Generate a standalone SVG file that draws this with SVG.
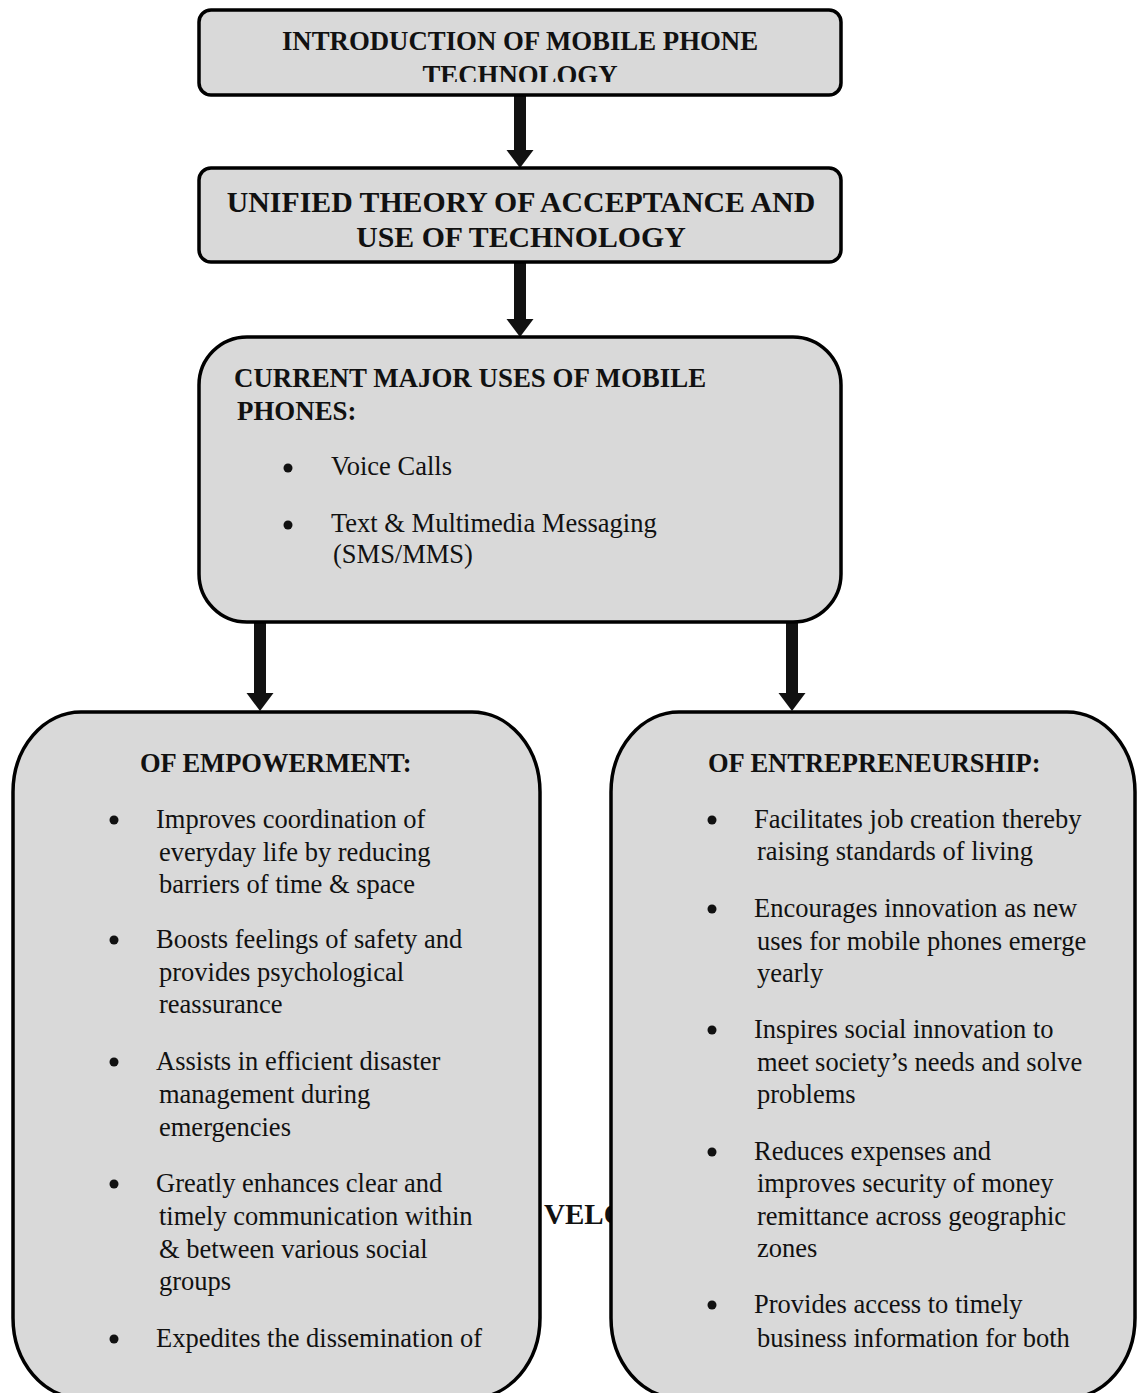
<svg xmlns="http://www.w3.org/2000/svg" width="1139" height="1393" viewBox="0 0 1139 1393">
<defs>
<style>
.box{fill:#d9d9d9;stroke:#000;stroke-width:3.5}
.t{font-family:"Liberation Serif","Times New Roman",serif;font-size:26.5px;fill:#111}
.b{font-weight:bold}
.dot{fill:#111}
.conn{stroke:#111;stroke-width:12;fill:none}
</style>
<marker id="ah" markerUnits="userSpaceOnUse" markerWidth="19" markerHeight="28" refX="0" refY="13.5" orient="auto">
<path d="M0,0 L18,13.5 L0,27 z" fill="#111"/>
</marker>
<clipPath id="c1"><rect x="199" y="10" width="642" height="72"/></clipPath>
<clipPath id="c2"><rect x="199" y="168" width="642" height="79"/></clipPath>
</defs>
<rect width="1139" height="1393" fill="#fff"/>

<text class="t b" x="544" y="1224" style="font-size:29px">VELO</text>

<g id="connectors">
<line class="conn" x1="520" y1="95" x2="520" y2="150" marker-end="url(#ah)"/>
<line class="conn" x1="520" y1="262" x2="520" y2="319" marker-end="url(#ah)"/>
<line class="conn" x1="260" y1="622" x2="260" y2="693" marker-end="url(#ah)"/>
<line class="conn" x1="792" y1="622" x2="792" y2="693" marker-end="url(#ah)"/>
</g>

<g id="intro">
<rect class="box" x="199" y="10" width="642" height="85" rx="12"/>
<g clip-path="url(#c1)">
<text class="t b" x="520" y="50" text-anchor="middle" style="font-size:26.8px">INTRODUCTION OF MOBILE PHONE</text>
<text class="t b" x="520" y="84" text-anchor="middle" style="font-size:26.8px">TECHNOLOGY</text>
</g>
</g>

<g id="utaut">
<rect class="box" x="199" y="168" width="642" height="94" rx="12"/>
<g clip-path="url(#c2)">
<text class="t b" x="521" y="212" text-anchor="middle" style="font-size:29.8px">UNIFIED THEORY OF ACCEPTANCE AND</text>
<text class="t b" x="521" y="247" text-anchor="middle" style="font-size:29.8px">USE OF TECHNOLOGY</text>
</g>
</g>

<g id="uses">
<rect class="box" x="199" y="337" width="642" height="285" rx="48"/>
<text class="t b" x="234" y="387" style="font-size:26.9px">CURRENT MAJOR USES OF MOBILE</text>
<text class="t b" x="237" y="420" style="font-size:26.9px">PHONES:</text>
<circle class="dot" cx="288" cy="468" r="4.5"/>
<text class="t" x="331" y="475">Voice Calls</text>
<circle class="dot" cx="288" cy="525" r="4.5"/>
<text class="t" x="331" y="532">Text &amp; Multimedia Messaging</text>
<text class="t" x="333" y="563">(SMS/MMS)</text>
</g>

<g id="empowerment">
<rect class="box" x="13" y="712" width="527" height="686" rx="68" ry="80"/>
<text class="t b" x="140" y="772">OF EMPOWERMENT:</text>
<circle class="dot" cx="114" cy="820" r="4.5"/>
<text class="t" x="156" y="828">Improves coordination of</text>
<text class="t" x="159" y="861">everyday life by reducing</text>
<text class="t" x="159" y="893">barriers of time &amp; space</text>
<circle class="dot" cx="114" cy="940" r="4.5"/>
<text class="t" x="156" y="948">Boosts feelings of safety and</text>
<text class="t" x="159" y="981">provides psychological</text>
<text class="t" x="159" y="1013">reassurance</text>
<circle class="dot" cx="114" cy="1062" r="4.5"/>
<text class="t" x="156" y="1070">Assists in efficient disaster</text>
<text class="t" x="159" y="1103">management during</text>
<text class="t" x="159" y="1136">emergencies</text>
<circle class="dot" cx="114" cy="1184" r="4.5"/>
<text class="t" x="156" y="1192">Greatly enhances clear and</text>
<text class="t" x="159" y="1225">timely communication within</text>
<text class="t" x="159" y="1258">&amp; between various social</text>
<text class="t" x="159" y="1290">groups</text>
<circle class="dot" cx="114" cy="1339" r="4.5"/>
<text class="t" x="156" y="1347">Expedites the dissemination of</text>
</g>

<g id="entrepreneurship">
<rect class="box" x="611" y="712" width="524" height="686" rx="68" ry="80"/>
<text class="t b" x="708" y="772">OF ENTREPRENEURSHIP:</text>
<circle class="dot" cx="712" cy="820" r="4.5"/>
<text class="t" x="754" y="828">Facilitates job creation thereby</text>
<text class="t" x="757" y="860">raising standards of living</text>
<circle class="dot" cx="712" cy="909" r="4.5"/>
<text class="t" x="754" y="917">Encourages innovation as new</text>
<text class="t" x="757" y="950">uses for mobile phones emerge</text>
<text class="t" x="757" y="982">yearly</text>
<circle class="dot" cx="712" cy="1030" r="4.5"/>
<text class="t" x="754" y="1038">Inspires social innovation to</text>
<text class="t" x="757" y="1071">meet society’s needs and solve</text>
<text class="t" x="757" y="1103">problems</text>
<circle class="dot" cx="712" cy="1152" r="4.5"/>
<text class="t" x="754" y="1160">Reduces expenses and</text>
<text class="t" x="757" y="1192">improves security of money</text>
<text class="t" x="757" y="1225">remittance across geographic</text>
<text class="t" x="757" y="1257">zones</text>
<circle class="dot" cx="712" cy="1305" r="4.5"/>
<text class="t" x="754" y="1313">Provides access to timely</text>
<text class="t" x="757" y="1347">business information for both</text>
</g>
</svg>
